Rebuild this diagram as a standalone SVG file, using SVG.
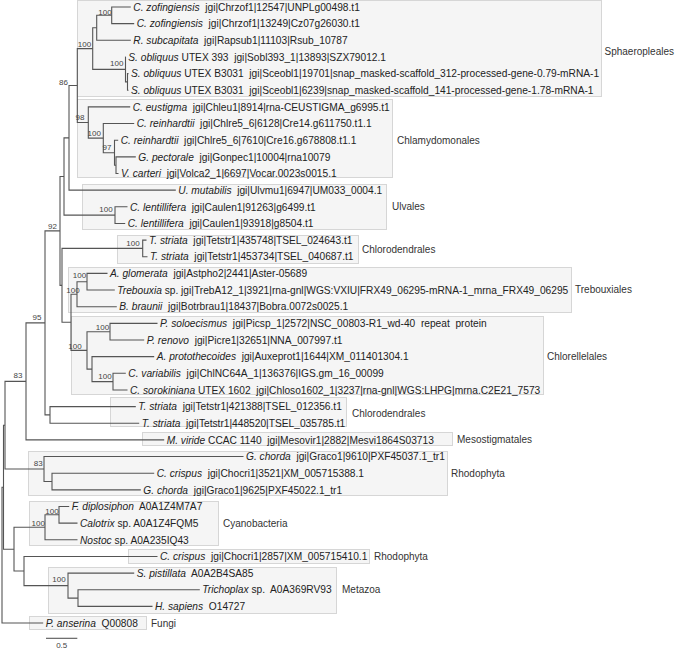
<svg xmlns="http://www.w3.org/2000/svg" width="676" height="649" viewBox="0 0 676 649">
<style>
.bg{fill:#ffffff}
.box{fill:#f5f5f5;stroke:#d6d6d6;stroke-width:1}
.br{fill:none;stroke:#555555;stroke-width:1.1}
.tx{font-family:"Liberation Sans",Arial,sans-serif;font-size:10.2px;fill:#222222;white-space:pre}
.sp{font-style:italic}
.bs{font-family:"Liberation Sans",Arial,sans-serif;font-size:8px;fill:#444444;text-anchor:middle}
.cl{font-family:"Liberation Sans",Arial,sans-serif;font-size:10px;fill:#333333}
</style>
<rect class="bg" x="0" y="0" width="676" height="649"/>
<g id="clades">
<g id="clade-sphaeropleales"><rect class="box" x="77.5" y="0.5" width="524" height="96"/><text class="cl" x="604.5" y="55">Sphaeropleales</text></g>
<g id="clade-chlamydomonales"><rect class="box" x="77.5" y="99.5" width="315" height="78"/><text class="cl" x="397" y="144">Chlamydomonales</text></g>
<g id="clade-ulvales"><rect class="box" x="82.5" y="184.5" width="304" height="45"/><text class="cl" x="392" y="210">Ulvales</text></g>
<g id="clade-chlorodendrales1"><rect class="box" x="117.5" y="235.5" width="241" height="28"/><text class="cl" x="362" y="252.5">Chlorodendrales</text></g>
<g id="clade-trebouxiales"><rect class="box" x="68.5" y="267.5" width="503" height="45"/><text class="cl" x="575" y="293">Trebouxiales</text></g>
<g id="clade-chlorellales"><rect class="box" x="71.5" y="316.5" width="472" height="78"/><text class="cl" x="547" y="359.5">Chlorellelales</text></g>
<g id="clade-chlorodendrales2"><rect class="box" x="110.5" y="397.5" width="236" height="29"/><text class="cl" x="352" y="416.5">Chlorodendrales</text></g>
<g id="clade-mesostigmatales"><rect class="box" x="142.5" y="432.5" width="310" height="13"/><text class="cl" x="457" y="443">Mesostigmatales</text></g>
<g id="clade-rhodophyta1"><rect class="box" x="28.5" y="451.5" width="419" height="44"/><text class="cl" x="451" y="476.5">Rhodophyta</text></g>
<g id="clade-cyanobacteria"><rect class="box" x="29.5" y="501.5" width="189" height="44"/><text class="cl" x="223" y="526.5">Cyanobacteria</text></g>
<g id="clade-rhodophyta2"><rect class="box" x="128.5" y="549.5" width="241" height="14"/><text class="cl" x="374" y="559.5">Rhodophyta</text></g>
<g id="clade-metazoa"><rect class="box" x="48.5" y="567.5" width="288" height="46"/><text class="cl" x="342" y="593">Metazoa</text></g>
<g id="clade-fungi"><rect class="box" x="29.5" y="616.5" width="117" height="13"/><text class="cl" x="151" y="626.5">Fungi</text></g>
</g>
<g id="connectors">
<path class="br" d="M130.8 7H111.7V23.65H134.2"/>
<path class="br" d="M111.7 15.3H96.7V40.3H130.8"/>
<path class="br" d="M128.5 73.6H127.5V90.25H128.5"/>
<path class="br" d="M125.8 56.95H125.5V81.9H127.5"/>
<path class="br" d="M96.7 27.8H92.7V69.4H125.5"/>
<path class="br" d="M92.7 48.6H77.3V122.5H88.3"/>
<path class="br" d="M130.2 106.9H88.3V138.1H103.3"/>
<path class="br" d="M134.2 123.55H103.3V152.7H114.5"/>
<path class="br" d="M118.2 140.2H114.5V165.2H116"/>
<path class="br" d="M135.8 156.85H116V173.5H118.5"/>
<path class="br" d="M77.3 85.55H69V190.15H175.8"/>
<path class="br" d="M127.5 206.8H115V223.45H125.2"/>
<path class="br" d="M69 137.85H64V215.1H115"/>
<path class="br" d="M146.5 240.1H142.7V256.75H147.5"/>
<path class="br" d="M107.5 273.4H87V290.05H114.8"/>
<path class="br" d="M87 281.7H77V306.7H116.8"/>
<path class="br" d="M157.5 323.35H110V340H144.2"/>
<path class="br" d="M125.8 373.3H113V389.95H127.5"/>
<path class="br" d="M154.2 356.65H92V381.6H113"/>
<path class="br" d="M110 331.7H87V369.1H92"/>
<path class="br" d="M77 294.2H71V350.4H87"/>
<path class="br" d="M142.7 248.4H62V322.3H71"/>
<path class="br" d="M64 176.5H60V285.35H62"/>
<path class="br" d="M135.8 406.6H50V423.25H139.2"/>
<path class="br" d="M60 230.9H45V414.9H50"/>
<path class="br" d="M45 322.9H26V439.9H164.2"/>
<path class="br" d="M154.2 473.2H52V489.85H140.8"/>
<path class="br" d="M243.5 456.55H44V481.5H52"/>
<path class="br" d="M26 381.4H5V469H44"/>
<path class="br" d="M69.2 506.5H59V523.15H77.5"/>
<path class="br" d="M59 514.8H45V539.8H77.5"/>
<path class="br" d="M199.8 589.75H78V606.4H152.5"/>
<path class="br" d="M134.2 573.1H68V598.1H78"/>
<path class="br" d="M157.5 556.45H24V585.6H68"/>
<path class="br" d="M45 527.3H14V571H24"/>
<path class="br" d="M5 425.2H3.5V549.2H14"/>
<path class="br" d="M3.5 487.2H2V623.05H43.2"/>
<path class="br" d="M46 638.3H77.3"/>
</g>
<g id="support">
<text class="bs" x="105" y="14.5">100</text>
<text class="bs" x="84.5" y="46.8">100</text>
<text class="bs" x="116.7" y="65.8">100</text>
<text class="bs" x="63.5" y="84.8">86</text>
<text class="bs" x="80" y="119.5">98</text>
<text class="bs" x="94.3" y="136">100</text>
<text class="bs" x="107" y="150">97</text>
<text class="bs" x="106" y="212">100</text>
<text class="bs" x="52.5" y="228.8">92</text>
<text class="bs" x="133" y="246">100</text>
<text class="bs" x="79.5" y="277.8">100</text>
<text class="bs" x="73" y="292.8">100</text>
<text class="bs" x="37" y="319.5">95</text>
<text class="bs" x="102.5" y="329.5">100</text>
<text class="bs" x="75" y="348.8">100</text>
<text class="bs" x="105" y="378.8">100</text>
<text class="bs" x="18" y="377.8">83</text>
<text class="bs" x="38.3" y="465.5">83</text>
<text class="bs" x="52" y="513.5">100</text>
<text class="bs" x="38.3" y="525.5">100</text>
<text class="bs" x="59" y="582">100</text>
<text class="bs" x="61.7" y="648">0.5</text>
</g>
<g id="taxa">
<g id="t1"><text class="tx" x="133.3" y="10.7"><tspan class="sp">C. zofingiensis</tspan>  jgi|Chrzof1|12547|UNPLg00498.t1</text></g>
<g id="t2"><text class="tx" x="136.7" y="27.3"><tspan class="sp">C. zofingiensis</tspan>  jgi|Chrzof1|13249|Cz07g26030.t1</text></g>
<g id="t3"><text class="tx" x="133.3" y="44"><tspan class="sp">R. subcapitata</tspan>  jgi|Rapsub1|11103|Rsub_10787</text></g>
<g id="t4"><text class="tx" x="128.3" y="60.6"><tspan class="sp">S. obliquus</tspan> UTEX 393  jgi|Sobl393_1|13893|SZX79012.1</text></g>
<g id="t5"><text class="tx" x="131" y="77.3"><tspan class="sp">S. obliquus</tspan> UTEX B3031  jgi|Sceobl1|19701|snap_masked-scaffold_312-processed-gene-0.79-mRNA-1</text></g>
<g id="t6"><text class="tx" x="131" y="93.9"><tspan class="sp">S. obliquus</tspan> UTEX B3031  jgi|Sceobl1|6239|snap_masked-scaffold_141-processed-gene-1.78-mRNA-1</text></g>
<g id="t7"><text class="tx" x="132.7" y="110.6"><tspan class="sp">C. eustigma</tspan>  jgi|Chleu1|8914|rna-CEUSTIGMA_g6995.t1</text></g>
<g id="t8"><text class="tx" x="136.7" y="127.2"><tspan class="sp">C. reinhardtii</tspan>  jgi|Chlre5_6|6128|Cre14.g611750.t1.1</text></g>
<g id="t9"><text class="tx" x="120.7" y="143.9"><tspan class="sp">C. reinhardtii</tspan>  jgi|Chlre5_6|7610|Cre16.g678808.t1.1</text></g>
<g id="t10"><text class="tx" x="138.3" y="160.5"><tspan class="sp">G. pectorale</tspan>  jgi|Gonpec1|10004|rna10079</text></g>
<g id="t11"><text class="tx" x="121" y="177.2"><tspan class="sp">V. carteri</tspan>  jgi|Volca2_1|6697|Vocar.0023s0015.1</text></g>
<g id="t12"><text class="tx" x="178.3" y="193.8"><tspan class="sp">U. mutabilis</tspan>  jgi|Ulvmu1|6947|UM033_0004.1</text></g>
<g id="t13"><text class="tx" x="130" y="210.5"><tspan class="sp">C. lentillifera</tspan>  jgi|Caulen1|91263|g6499.t1</text></g>
<g id="t14"><text class="tx" x="127.7" y="227.1"><tspan class="sp">C. lentillifera</tspan>  jgi|Caulen1|93918|g8504.t1</text></g>
<g id="t15"><text class="tx" x="149" y="243.8"><tspan class="sp">T. striata</tspan>  jgi|Tetstr1|435748|TSEL_024643.t1</text></g>
<g id="t16"><text class="tx" x="150" y="260.4"><tspan class="sp">T. striata</tspan>  jgi|Tetstr1|453734|TSEL_040687.t1</text></g>
<g id="t17"><text class="tx" x="110" y="277.1"><tspan class="sp">A. glomerata</tspan>  jgi|Astpho2|2441|Aster-05689</text></g>
<g id="t18"><text class="tx" x="117.3" y="293.7"><tspan class="sp">Trebouxia</tspan> sp. jgi|TrebA12_1|3921|rna-gnl|WGS:VXIU|FRX49_06295-mRNA-1_mrna_FRX49_06295</text></g>
<g id="t19"><text class="tx" x="119.3" y="310.4"><tspan class="sp">B. braunii</tspan>  jgi|Botrbrau1|18437|Bobra.0072s0025.1</text></g>
<g id="t20"><text class="tx" x="160" y="327"><tspan class="sp">P. soloecismus</tspan>  jgi|Picsp_1|2572|NSC_00803-R1_wd-40  repeat  protein</text></g>
<g id="t21"><text class="tx" x="146.7" y="343.7"><tspan class="sp">P. renovo</tspan>  jgi|Picre1|32651|NNA_007997.t1</text></g>
<g id="t22"><text class="tx" x="156.7" y="360.3"><tspan class="sp">A. protothecoides</tspan>  jgi|Auxeprot1|1644|XM_011401304.1</text></g>
<g id="t23"><text class="tx" x="128.3" y="377"><tspan class="sp">C. variabilis</tspan>  jgi|ChlNC64A_1|136376|IGS.gm_16_00099</text></g>
<g id="t24"><text class="tx" x="130" y="393.6"><tspan class="sp">C. sorokiniana</tspan> UTEX 1602  jgi|Chloso1602_1|3237|rna-gnl|WGS:LHPG|mrna.C2E21_7573</text></g>
<g id="t25"><text class="tx" x="138.3" y="410.3"><tspan class="sp">T. striata</tspan>  jgi|Tetstr1|421388|TSEL_012356.t1</text></g>
<g id="t26"><text class="tx" x="141.7" y="426.9"><tspan class="sp">T. striata</tspan>  jgi|Tetstr1|448520|TSEL_035785.t1</text></g>
<g id="t27"><text class="tx" x="166.7" y="443.6"><tspan class="sp">M. viride</tspan> CCAC 1140  jgi|Mesovir1|2882|Mesvi1864S03713</text></g>
<g id="t28"><text class="tx" x="246" y="460.2"><tspan class="sp">G. chorda</tspan>  jgi|Graco1|9610|PXF45037.1_tr1</text></g>
<g id="t29"><text class="tx" x="156.7" y="476.9"><tspan class="sp">C. crispus</tspan>  jgi|Chocri1|3521|XM_005715388.1</text></g>
<g id="t30"><text class="tx" x="143.3" y="493.5"><tspan class="sp">G. chorda</tspan>  jgi|Graco1|9625|PXF45022.1_tr1</text></g>
<g id="t31"><text class="tx" x="71.7" y="510.2"><tspan class="sp">F. diplosiphon</tspan>  A0A1Z4M7A7</text></g>
<g id="t32"><text class="tx" x="80" y="526.8"><tspan class="sp">Calotrix</tspan> sp. A0A1Z4FQM5</text></g>
<g id="t33"><text class="tx" x="80" y="543.5"><tspan class="sp">Nostoc</tspan> sp. A0A235IQ43</text></g>
<g id="t34"><text class="tx" x="160" y="560.1"><tspan class="sp">C. crispus</tspan>  jgi|Chocri1|2857|XM_005715410.1</text></g>
<g id="t35"><text class="tx" x="136.7" y="576.8"><tspan class="sp">S. pistillata</tspan>  A0A2B4SA85</text></g>
<g id="t36"><text class="tx" x="202.3" y="593.4"><tspan class="sp">Trichoplax</tspan> sp.  A0A369RV93</text></g>
<g id="t37"><text class="tx" x="155" y="610.1"><tspan class="sp">H. sapiens</tspan>  O14727</text></g>
<g id="t38"><text class="tx" x="45.7" y="626.7"><tspan class="sp">P. anserina</tspan>  Q00808</text></g>
</g>
</svg>
